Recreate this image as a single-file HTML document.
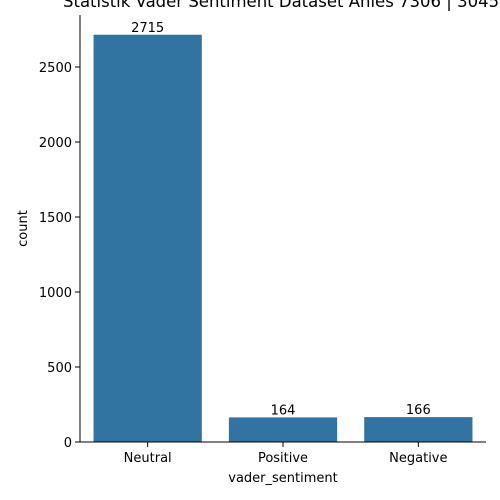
<!DOCTYPE html>
<html><head><meta charset="utf-8"><style>body{margin:0;background:#fff}svg{display:block;font-family:"DejaVu Sans","Liberation Sans",sans-serif}</style></head>
<body>
<svg id="c" width="500" height="500" xmlns="http://www.w3.org/2000/svg">
<text x="63" y="7" font-size="16.5" fill="#000">Statistik Vader Sentiment Dataset Anies 7306 | 3045</text>
<g id="plot"></g>
</svg>
<script>
const categories = ["Neutral","Positive","Negative"];
const counts = [2715,164,166];
const yTicks = [0,500,1000,1500,2000,2500];
const NS="http://www.w3.org/2000/svg";
const L=80,R=486,B=442,T=15;
const y=v=>B-v*0.15;
const step=(R-L)/categories.length;
const x=i=>L+step*(i+0.5);
const g=document.getElementById('plot');
function mk(t,a,txt){const e=document.createElementNS(NS,t);for(const k in a)e.setAttribute(k,a[k]);if(txt!==undefined)e.textContent=txt;g.appendChild(e);return e;}
categories.forEach((c,i)=>{
  const bw=step*0.8;
  const r=mk('rect',{x:x(i)-bw/2,y:y(counts[i]),width:bw,height:B-y(counts[i]),fill:'#3274a1'});
  
  
  const t=mk('text',{x:x(i),y:y(counts[i])-3,'font-size':13,'text-anchor':'middle'},String(counts[i]));
  
  
  const tk=mk('line',{x1:x(i),x2:x(i),y1:B,y2:B+5,stroke:'#000'});
  
  
  const tl=mk('text',{x:x(i),y:B+20,'font-size':13,'text-anchor':'middle'},c);
  
  
});
yTicks.forEach(v=>{
  const tk=mk('line',{x1:L-5,x2:L,y1:y(v),y2:y(v),stroke:'#000'});
  
  
  const tl=mk('text',{x:L-8,y:y(v)+5,'font-size':13,'text-anchor':'end'},String(v));
  
  
});
const ax=mk('line',{x1:L,x2:L,y1:T,y2:B,stroke:'#000'});


const bx=mk('line',{x1:L,x2:R,y1:B,y2:B,stroke:'#000'});


const xt=mk('text',{x:(L+R)/2,y:482,'font-size':13,'text-anchor':'middle'},'vader_sentiment');


const yt=mk('text',{x:27,y:(T+B)/2,'font-size':13,'text-anchor':'middle',transform:`rotate(-90 27 ${(T+B)/2})`},'count');


</script>
</body></html>
